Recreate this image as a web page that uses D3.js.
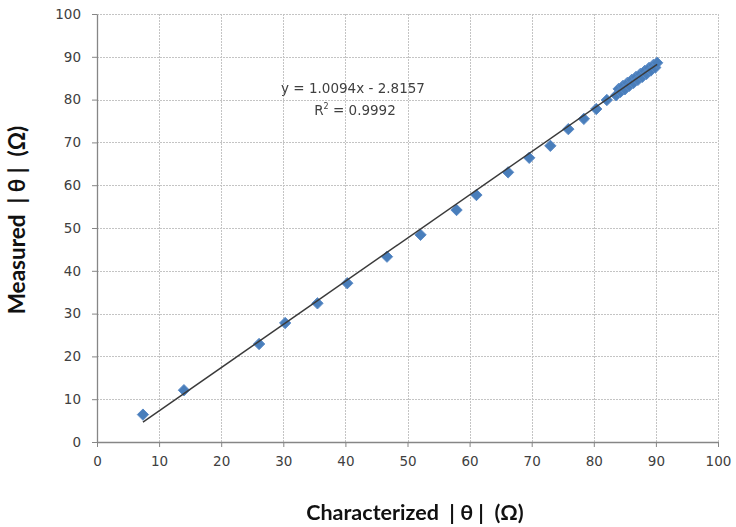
<!DOCTYPE html>
<html>
<head>
<meta charset="utf-8">
<script src="https://cdn.jsdelivr.net/npm/d3@7"></script>
<style>
  html, body { margin: 0; padding: 0; background: #fff; }
  svg { display: block; }
  .tick text { font-family: "DejaVu Sans", Verdana, sans-serif; font-size: 13.5px; fill: #404040; }
  .axis-title { white-space: pre; font-family: Lato, "Open Sans", sans-serif; font-weight: bold; font-size: 21.5px; fill: #111; }
</style>
</head>
<body>
<svg id="chart" width="736" height="527"></svg>
<script>
// Characterized vs. measured |θ| samples
const characterized = [7.4, 14.0, 26.1, 30.3, 35.5, 40.3, 46.7, 52.1, 57.9, 61.1, 66.2, 69.6, 73.0, 75.9, 78.4, 80.4, 82.1,
  83.6, 84.0, 84.3, 84.7, 85.0, 85.4, 85.7, 86.1, 86.4, 86.8, 87.1, 87.5, 87.8, 88.2, 88.5, 88.9, 89.2, 89.6, 89.9, 90.2];
const measured = [6.4, 12.1, 22.9, 27.8, 32.4, 37.1, 43.3, 48.4, 54.2, 57.7, 63.0, 66.4, 69.2, 73.1, 75.5, 77.8, 79.9,
  81.0, 82.5, 81.8, 83.2, 82.4, 83.9, 83.2, 84.6, 83.9, 85.3, 84.6, 86.0, 85.3, 86.7, 86.0, 87.4, 86.8, 88.1, 87.5, 88.6];

// Linear trendline fitted to the samples
const fitSlope = 1.0094;
const fitIntercept = -2.8157;
const fitR2 = 0.9992;

const xTicks = [0, 10, 20, 30, 40, 50, 60, 70, 80, 90, 100];
const yTicks = [0, 10, 20, 30, 40, 50, 60, 70, 80, 90, 100];

const svg = d3.select("#chart");
const x = d3.scaleLinear().domain([0, 100]).range([97, 718]);
const y = d3.scaleLinear().domain([0, 100]).range([442, 14]);

// Dotted gridlines
const grid = svg.append("g").attr("stroke", "#c4c4c4").attr("stroke-width", 1).attr("stroke-dasharray", "2,1");
grid.selectAll("line.h").data(yTicks.filter(d => d > 0)).join("line")
  .attr("x1", x(0)).attr("x2", x(100))
  .attr("y1", d => Math.round(y(d)) + 0.5).attr("y2", d => Math.round(y(d)) + 0.5);
grid.selectAll("line.v").data(xTicks.filter(d => d > 0)).join("line")
  .attr("y1", y(0)).attr("y2", y(100))
  .attr("x1", d => Math.round(x(d)) + 0.5).attr("x2", d => Math.round(x(d)) + 0.5);

// Axes
const xAxis = svg.append("g").attr("transform", `translate(0,${y(0)})`)
  .call(d3.axisBottom(x).tickValues(xTicks).tickSize(5).tickPadding(9).tickSizeOuter(0));
const yAxis = svg.append("g").attr("transform", `translate(${x(0)},0)`)
  .call(d3.axisLeft(y).tickValues(yTicks).tickSize(5).tickPadding(11).tickSizeOuter(0));
[xAxis, yAxis].forEach(a => {
  a.select(".domain").attr("stroke", "#868686").attr("stroke-width", 1.3);
  a.selectAll(".tick line").attr("stroke", "#868686");
});

// Soft edge on the markers
svg.append("defs").append("filter").attr("id", "soft")
  .append("feGaussianBlur").attr("stdDeviation", 0.45);

// Sample markers (diamonds)
const diamond = d3.symbol().type(d3.symbolDiamond2).size(82);
svg.append("g").attr("filter", "url(#soft)").selectAll("path").data(characterized).join("path")
  .attr("d", diamond)
  .attr("transform", (d, i) => `translate(${x(d)},${y(measured[i])})`)
  .attr("fill", "#4a7ebb")
  .attr("stroke", "#5a8ac6").attr("stroke-width", 1);

// Trendline across the sampled range
const xMin = d3.min(characterized), xMax = d3.max(characterized);
svg.append("line")
  .attr("x1", x(xMin)).attr("y1", y(fitSlope * xMin + fitIntercept))
  .attr("x2", x(xMax)).attr("y2", y(fitSlope * xMax + fitIntercept))
  .attr("stroke", "#3a3a3a").attr("stroke-width", 1.5);

// Equation label
const eq = svg.append("g").attr("font-family", "'DejaVu Sans', Verdana, sans-serif")
  .attr("font-size", 13.5).attr("fill", "#404040").attr("text-anchor", "middle");
eq.append("text").attr("x", 353).attr("y", 93)
  .text(`y = ${fitSlope}x - ${Math.abs(fitIntercept)}`);
const r2 = eq.append("text").attr("x", 355).attr("y", 115);
r2.append("tspan").text("R");
r2.append("tspan").attr("font-size", 8).attr("dy", -6).text("2");
r2.append("tspan").attr("dy", 6).text(` = ${fitR2}`);

// Axis titles
svg.append("text").attr("class", "axis-title")
  .attr("x", 415).attr("y", 520)
  .attr("text-anchor", "middle")
  .text("Characterized  | θ |  (Ω)");
svg.append("text").attr("class", "axis-title")
  .attr("transform", "translate(25,220) rotate(-90)")
  .attr("text-anchor", "middle")
  .style("font-size", "22.5px")
  .text("Measured  | θ |  (Ω)");
</script>
</body>
</html>
